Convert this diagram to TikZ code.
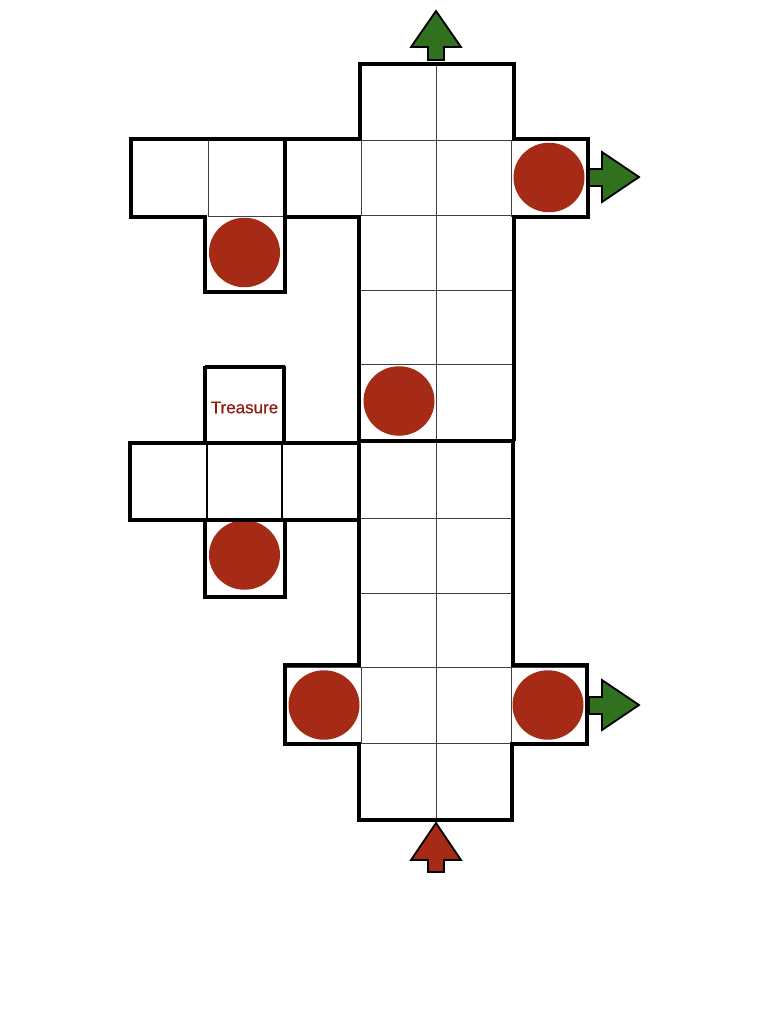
\documentclass[tikz,border=0pt]{standalone}
\usepackage{fontspec}
\setmainfont{Liberation Sans}
\newfontfamily\lblfont[FakeBold=0.35]{Liberation Sans}
\usetikzlibrary{shapes.geometric}
\definecolor{brick}{HTML}{A62B16}
\definecolor{leaf}{HTML}{31701E}
\definecolor{lbl}{HTML}{8F1F12}
\tikzset{
  thick wall/.style={draw=black,line width=4pt,line join=miter},
  thin grid/.style={draw=black!75,line width=0.9pt},
  token/.style={ellipse,fill=brick,minimum width=71pt,minimum height=69.5pt,inner sep=0pt},
  goal arrow/.style={fill=leaf,draw=black,line width=1.8pt,line join=miter},
  start arrow/.style={fill=brick,draw=black,line width=1.8pt,line join=miter},
}
\begin{document}
\begin{tikzpicture}[x=1pt,y=-1pt]
\useasboundingbox (0,0) rectangle (768,1024);
\fill[white] (0,0) rectangle (768,1024);
% thin grid
\draw[thin grid] (436,64) -- (436,820);
\draw[thin grid] (361,140) -- (361,215) (511,140) -- (511,217);
\draw[thin grid] (361,667) -- (361,743) (511,667) -- (511,743);
\foreach \yy in {140,215,290,364,518,593,667,743} \draw[thin grid] (360,\yy) -- (512,\yy);
\draw[thin grid] (512,140) -- (588,140) (285,140) -- (360,140) (285,215) -- (360,215);
\draw[thin grid] (512,667) -- (587,667) (512,743) -- (587,743) (285,667) -- (360,667) (285,743) -- (360,743);
\draw[thin grid] (208,139) -- (208,217) (208,216) -- (285,216);
\draw[draw=black,line width=1.3pt] (207,443) -- (207,520) (282,443) -- (282,520) (207,443) -- (282,443) (207,519) -- (282,519);
% tokens
\node[token] (t1) at (244.5,252.5) {};
\node[token] (t2) at (549,177.5) {};
\node[token] (t3) at (399,401) {};
\node[token] (t4) at (244.5,555) {};
\node[token] (t5) at (324,705) {};
\node[token] (t6) at (548,705) {};
% walls
\draw[thick wall] (360,64) -- (514,64) -- (514,139) -- (588,139) -- (588,217) -- (514,217) -- (514,441);
\draw[thick wall] (513,439) -- (513,665) -- (587,665) -- (587,744) -- (512,744) -- (512,820) -- (359,820) -- (359,744)
  -- (285,744) -- (285,665) -- (359,665) -- (359,217) -- (285,217) -- (285,292) -- (205,292)
  -- (205,217) -- (131,217) -- (131,139) -- (360,139) -- (360,62);
\draw[thick wall] (285,139) -- (285,217);
\draw[thick wall] (359,441) -- (513,441);
\draw[thick wall] (205,367) -- (285,367);
\draw[thick wall] (205,366) -- (205,443) (284,366) -- (284,443);
\draw[thick wall] (359,443) -- (130,443) -- (130,520) -- (359,520);
\draw[thick wall] (205,520) -- (205,597) -- (285,597) -- (285,520);
% text
\node[text=lbl,font=\lblfont\fontsize{17}{20}\selectfont,inner sep=0pt] (tr) at (244.5,407.5) {Treasure};
% arrows
\draw[goal arrow] (436,11) -- (461,47) -- (444,47) -- (444,60) -- (428,60) -- (428,47) -- (411,47) -- cycle;
\draw[start arrow] (436,823) -- (461,860) -- (444,860) -- (444,872) -- (428,872) -- (428,860) -- (411,860) -- cycle;
\draw[goal arrow] (639,177) -- (602,152) -- (602,169) -- (589,169) -- (589,186) -- (602,186) -- (602,202) -- cycle;
\draw[goal arrow] (639,705) -- (602,680) -- (602,697) -- (589,697) -- (589,714) -- (602,714) -- (602,730) -- cycle;
\end{tikzpicture}
\end{document}
